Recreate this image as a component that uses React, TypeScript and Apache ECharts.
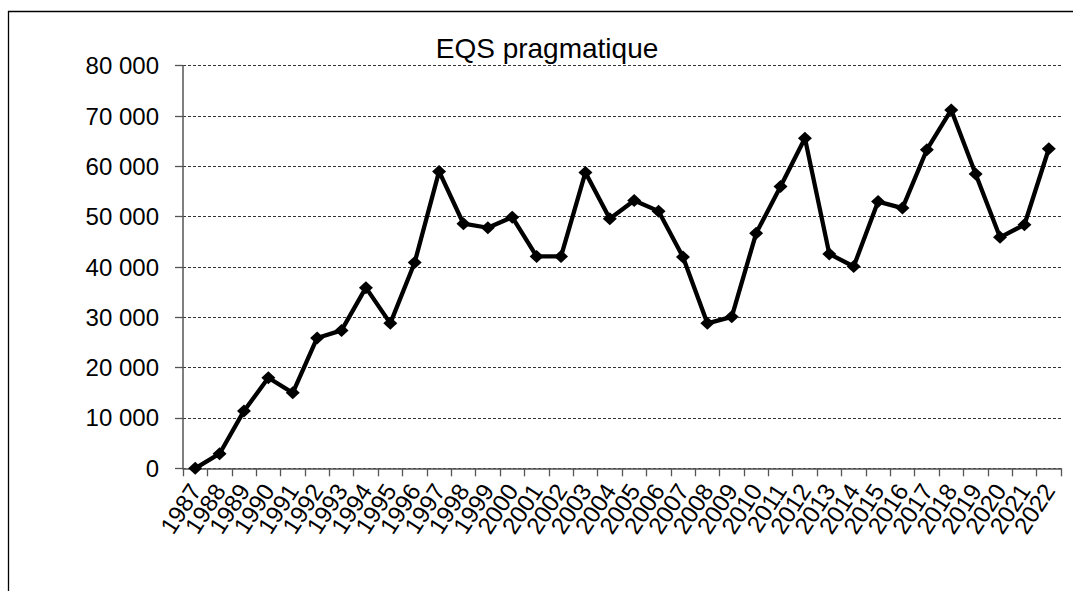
import React, { useEffect, useRef } from "react";
import * as echarts from "echarts";

const years: string[] = [
  "1987", "1988", "1989", "1990", "1991", "1992", "1993", "1994", "1995", "1996",
  "1997", "1998", "1999", "2000", "2001", "2002", "2003", "2004", "2005", "2006",
  "2007", "2008", "2009", "2010", "2011", "2012", "2013", "2014", "2015", "2016",
  "2017", "2018", "2019", "2020", "2021", "2022",
];

const eqsValues: number[] = [
  0, 2900, 11400, 18000, 15000, 25900, 27400, 35900, 28800, 40900,
  59000, 48600, 47800, 49900, 42100, 42100, 58800, 49600, 53200, 51100,
  42000, 28800, 30100, 46700, 56000, 65600, 42600, 40100, 53000, 51700,
  63300, 71200, 58500, 45900, 48400, 63500,
];

const chartTitle = "EQS pragmatique";
const yMax = 80000;
const yStep = 10000;

const FONT = "'Liberation Sans', Arial, sans-serif";

function fmt(v: number): string {
  return String(v).replace(/\B(?=(\d{3})+(?!\d))/g, " ");
}

export default function App() {
  const ref = useRef<HTMLDivElement>(null);
  useEffect(() => {
    if (!ref.current) return;
    const chart = echarts.init(ref.current, null, { renderer: "svg" });
    chart.setOption({
      animation: false,
      backgroundColor: "#ffffff",
      graphic: [
        {
          type: "line",
          shape: { x1: 8, y1: 11.5, x2: 1073, y2: 11.5 },
          style: { stroke: "#000", lineWidth: 1.3 },
        },
        {
          type: "line",
          shape: { x1: 8.5, y1: 11, x2: 8.5, y2: 591 },
          style: { stroke: "#000", lineWidth: 1.3 },
        },
        {
          type: "text",
          x: 547,
          y: 48,
          style: {
            text: chartTitle,
            fontFamily: FONT,
            fontSize: 28,
            fill: "#000",
            textAlign: "center",
            textVerticalAlign: "middle",
          },
        },
      ],
      grid: { left: 183, right: 12, top: 65.7, bottom: 122.7, containLabel: false },
      xAxis: {
        type: "category",
        data: years,
        boundaryGap: true,
        axisLine: { show: true, lineStyle: { color: "#555", width: 1.5 } },
        axisTick: { show: true, length: 8, inside: false, lineStyle: { color: "#555", width: 1.3 } },
        axisLabel: {
          interval: 0,
          rotate: 57,
          margin: 18,
          fontFamily: FONT,
          fontSize: 24,
          color: "#000",
        },
        splitLine: { show: false },
      },
      yAxis: {
        type: "value",
        min: 0,
        max: yMax,
        interval: yStep,
        axisLine: { show: true, lineStyle: { color: "#555", width: 1.5 } },
        axisTick: { show: true, length: 8, lineStyle: { color: "#555", width: 1.3 } },
        axisLabel: {
          margin: 24,
          fontFamily: FONT,
          fontSize: 24,
          color: "#000",
          formatter: (v: number) => fmt(v),
        },
        splitLine: { show: true, lineStyle: { color: "#333", type: [3, 2], width: 1 } },
      },
      series: [
        {
          type: "line",
          data: eqsValues,
          symbol: "diamond",
          symbolSize: [14, 13],
          showSymbol: true,
          lineStyle: { color: "#000", width: 4.3 },
          itemStyle: { color: "#000" },
        },
      ],
    });
    return () => chart.dispose();
  }, []);
  return (
    <div
      ref={ref}
      style={{ position: "fixed", left: 0, top: 0, width: 1073, height: 591 }}
    />
  );
}
